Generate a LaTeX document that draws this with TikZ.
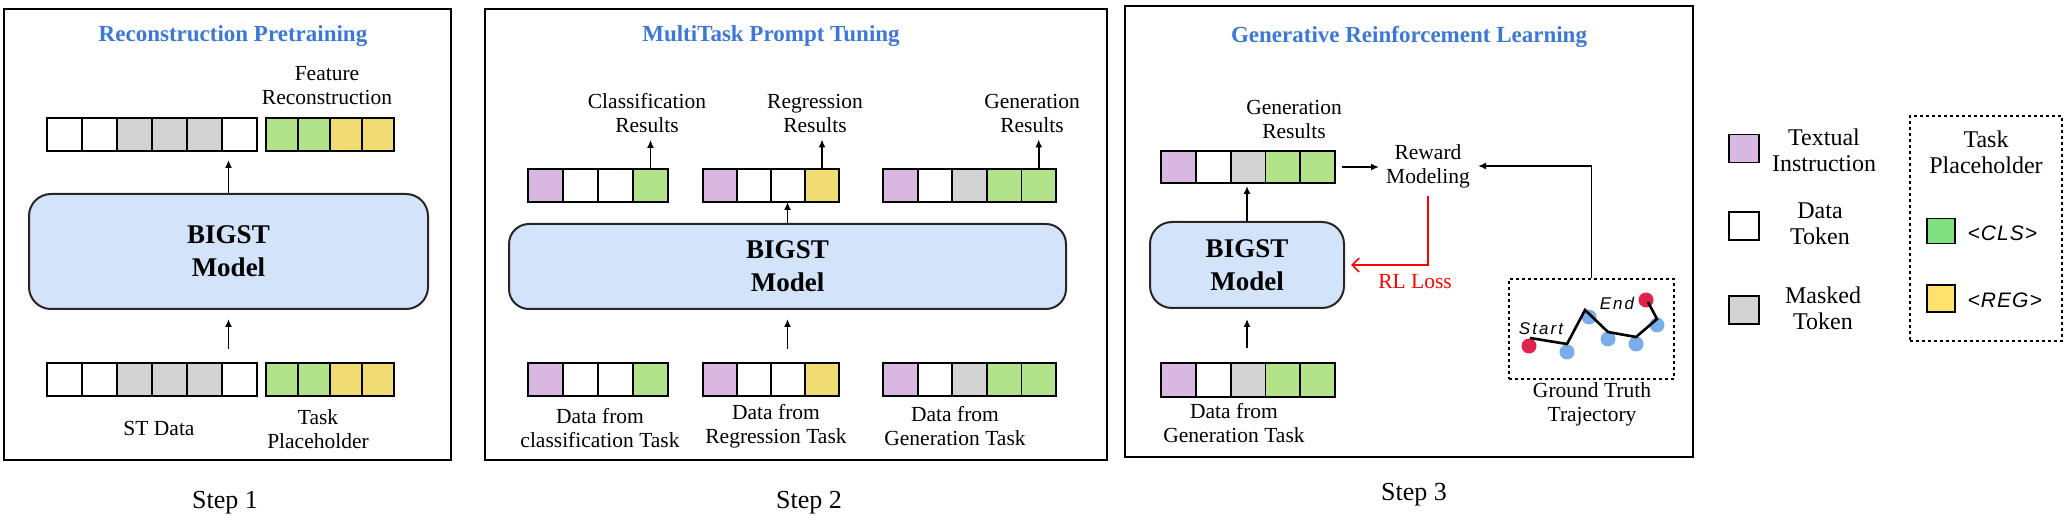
\documentclass[tikz,border=0pt]{standalone}
\usepackage{fontspec}
\setmainfont{Liberation Serif}
\newfontfamily\tagsans[LetterSpace=12]{Liberation Sans}
\newfontfamily\phsans[LetterSpace=5]{Liberation Sans}
\usetikzlibrary{arrows.meta}
\definecolor{ttlblue}{HTML}{3C78D8}
\definecolor{mfill}{HTML}{D2E3FA}
\definecolor{cp}{HTML}{D8B8E0}
\definecolor{cg}{HTML}{D3D3D3}
\definecolor{cgr}{HTML}{B2E38A}
\definecolor{cy}{HTML}{F0DC72}
\definecolor{cw}{HTML}{FFFFFF}
\definecolor{lgr}{HTML}{7EE07E}
\definecolor{lye}{HTML}{FFE26E}
\definecolor{dotred}{HTML}{E0234E}
\definecolor{dotblue}{HTML}{7AAEEA}
\tikzset{
  tok/.style={draw, line width=1.8pt, inner sep=0pt, outer sep=0pt, anchor=north west},
  panel/.style={draw, line width=2pt, inner sep=0pt, anchor=north west},
  model/.style={draw=black!85, line width=2pt, rounded corners=22pt, fill=mfill, align=center,
    font=\fontsize{27}{33}\selectfont\bfseries},
  arr/.style={-{Latex[length=8pt,width=7pt]}, line width=1.6pt},
  redarr/.style={-{Straight Barb[length=7pt,width=14pt]}, line width=1.6pt, red},
  lbl/.style={align=center, inner sep=2pt, font=\fontsize{21.5}{24}\selectfont},
  leg/.style={align=center, inner sep=2pt, font=\fontsize{24}{26}\selectfont},
  ttl/.style={text=ttlblue, font=\fontsize{23}{26}\selectfont\bfseries},
  steplbl/.style={font=\fontsize{26}{30}\selectfont},
  legsq/.style={draw, line width=1.8pt, minimum width=30pt, minimum height=28pt, inner sep=0pt},
  dot/.style={circle, inner sep=0pt, minimum size=15pt}
}
\newcommand{\tokrow}[6]{%
  \foreach \c [count=\i] in {#6}{%
    \node[tok, fill=\c, minimum width=#4pt, minimum height=#5pt] (#1-\i) at ({#2+(\i-1)*#4},#3) {};}}
\begin{document}
\begin{tikzpicture}[x=1pt,y=-1pt]
\useasboundingbox (0,0) rectangle (2072,526);
% ---------------- Panel 1
\node[panel, minimum width=447pt, minimum height=451pt] (p1) at (3,8) {};
\node[ttl] (t1) at (233,36) {Reconstruction Pretraining};
\tokrow{a}{47}{118}{35}{33}{cw,cw,cg,cg,cg,cw}
\tokrow{b}{266}{118}{32}{33}{cgr,cgr,cy,cy}
\tokrow{c}{47}{363}{35}{33}{cw,cw,cg,cg,cg,cw}
\tokrow{d}{266}{363}{32}{33}{cgr,cgr,cy,cy}
\node[model, minimum width=399pt, minimum height=115pt] (m1) at (228.5,251.5) {BIGST\\Model};
\draw[arr, shorten >=9pt] (m1.north) -- (m1.north |- a-6.south);
\draw[arr, shorten <=14pt, shorten >=9pt] (m1.south |- c-1.north) -- (m1.south);
\node[lbl] (fr) at (327,86) {Feature\\Reconstruction};
\node[lbl] (st) at (159,428) {ST Data};
\node[lbl] (tp) at (318,429) {Task\\Placeholder};
\node[steplbl] (s1) at (225,503) {Step 1};
% ---------------- Panel 2
\node[panel, minimum width=622pt, minimum height=451pt] (p2) at (484,8) {};
\node[ttl] (t2) at (771,36) {MultiTask Prompt Tuning};
\tokrow{rc}{528}{169}{35}{33}{cp,cw,cw,cgr}
\tokrow{rr}{703}{169}{34}{33}{cp,cw,cw,cy}
\tokrow{rg}{883}{169}{34.6}{33}{cp,cw,cg,cgr,cgr}
\tokrow{bc}{528}{363}{35}{33}{cp,cw,cw,cgr}
\tokrow{br}{703}{363}{34}{33}{cp,cw,cw,cy}
\tokrow{bg}{883}{363}{34.6}{33}{cp,cw,cg,cgr,cgr}
\node[model, rounded corners=20pt, minimum width=557pt, minimum height=85pt] (m2) at (787.5,266.5) {BIGST\\Model};
\node[lbl] (lc) at (647,113) {Classification\\Results};
\node[lbl] (lr) at (815,113) {Regression\\Results};
\node[lbl] (lg) at (1032,113) {Generation\\Results};
\draw[arr, shorten >=5pt] (rc-4.north) -- (rc-4.north |- lc.south);
\draw[arr, shorten >=5pt] (rr-4.north) -- (rr-4.north |- lr.south);
\draw[arr, shorten >=5pt] (rg-5.north) -- (rg-5.north |- lg.south);
\draw[arr] (m2.north) -- (m2.north |- rr-3.south);
\draw[arr, shorten <=14pt, shorten >=9pt] (m2.south |- br-1.north) -- (m2.south);
\node[lbl] (dc) at (600,428) {Data from\\classification Task};
\node[lbl] (dr) at (776,426) {Data from\\Regression Task};
\node[lbl] (dg) at (955,426) {Data from\\Generation Task};
\node[steplbl] (s2) at (809,503) {Step 2};
% ---------------- Panel 3
\node[panel, minimum width=568pt, minimum height=451pt] (p3) at (1124,5) {};
\node[ttl] (t3) at (1409,37) {Generative Reinforcement Learning};
\tokrow{g}{1161}{151}{34.8}{32}{cp,cw,cg,cgr,cgr}
\tokrow{h}{1161}{363}{34.8}{34}{cp,cw,cg,cgr,cgr}
\node[model, minimum width=194pt, minimum height=86pt] (m3) at (1247,265) {BIGST\\Model};
\draw[arr, shorten >=3pt] (m3.north) -- (m3.north |- g-1.south);
\draw[arr, shorten <=15pt, shorten >=10pt] (m3.south |- h-1.north) -- (m3.south);
\node[lbl] (gr) at (1294,119) {Generation\\Results};
\node[lbl] (dg3) at (1234,423) {Data from\\Generation Task};
\node[lbl] (rm) at (1428,166) {Reward\\Modeling};
\draw[arr, shorten <=7pt, shorten >=5pt] (g-5.east) -- (g-5.east -| rm.west);
\node[draw, dashed, line width=1.8pt, minimum width=165pt, minimum height=100pt] (gt) at (1591.5,329) {};
\draw[arr, shorten >=6pt] (gt.north) |- (rm.east);
\draw[redarr, shorten <=6pt, shorten >=6pt] (rm.south) |- (m3.east);
\node[lbl, text=red] (rl) at (1415,282) {RL Loss};
\node[lbl] (gtl) at (1592,404) {Ground Truth\\Trajectory};
% trajectory
\node[dot, fill=dotred] (d0) at (1529,346) {};
\node[dot, fill=dotblue] (d1) at (1567,352) {};
\node[dot, fill=dotblue] (d2) at (1589,317) {};
\node[dot, fill=dotblue] (d3) at (1608,339) {};
\node[dot, fill=dotblue] (d4) at (1636,344) {};
\node[dot, fill=dotblue] (d5) at (1657,325) {};
\node[dot, fill=dotred] (d6) at (1646,300) {};
\draw[line width=2.6pt] (1530,338) -- (1567,344) -- (1585,310) -- (1608,332) -- (1636,337) -- (1657,319) -- (1648,302);
\node[font=\tagsans\itshape\fontsize{17}{20}\selectfont] (sl) at (1541,329) {Start};
\node[font=\tagsans\itshape\fontsize{17}{20}\selectfont] (el) at (1617,303) {End};
\node[steplbl] (s3) at (1414,495) {Step 3};
% ---------------- Legend
\node[legsq, fill=cp] (lp) at (1744,148.5) {};
\node[legsq, fill=cw] (lw) at (1744,226) {};
\node[legsq, fill=cg] (lgy) at (1744,310) {};
\node[leg] (lpt) at (1824,150) {Textual\\Instruction};
\node[leg] (lwt) at (1820,224) {Data\\Token};
\node[leg] (lgt) at (1823,308) {Masked\\Token};
\node[draw, dashed, line width=1.8pt, minimum width=152pt, minimum height=225pt] (lb) at (1986,228.5) {};
\node[leg] (lbt) at (1986,152) {Task\\Placeholder};
\node[legsq, fill=lgr, minimum width=28pt, minimum height=25pt] (lcls) at (1941,231) {};
\node[legsq, fill=lye, minimum width=28pt, minimum height=27pt] (lreg) at (1941,298.5) {};
\node[anchor=west, font=\phsans\itshape\fontsize{21}{24}\selectfont] (tcls) at (1964,233) {<CLS>};
\node[anchor=west, font=\phsans\itshape\fontsize{21}{24}\selectfont] (treg) at (1964,300) {<REG>};
\end{tikzpicture}
\end{document}
